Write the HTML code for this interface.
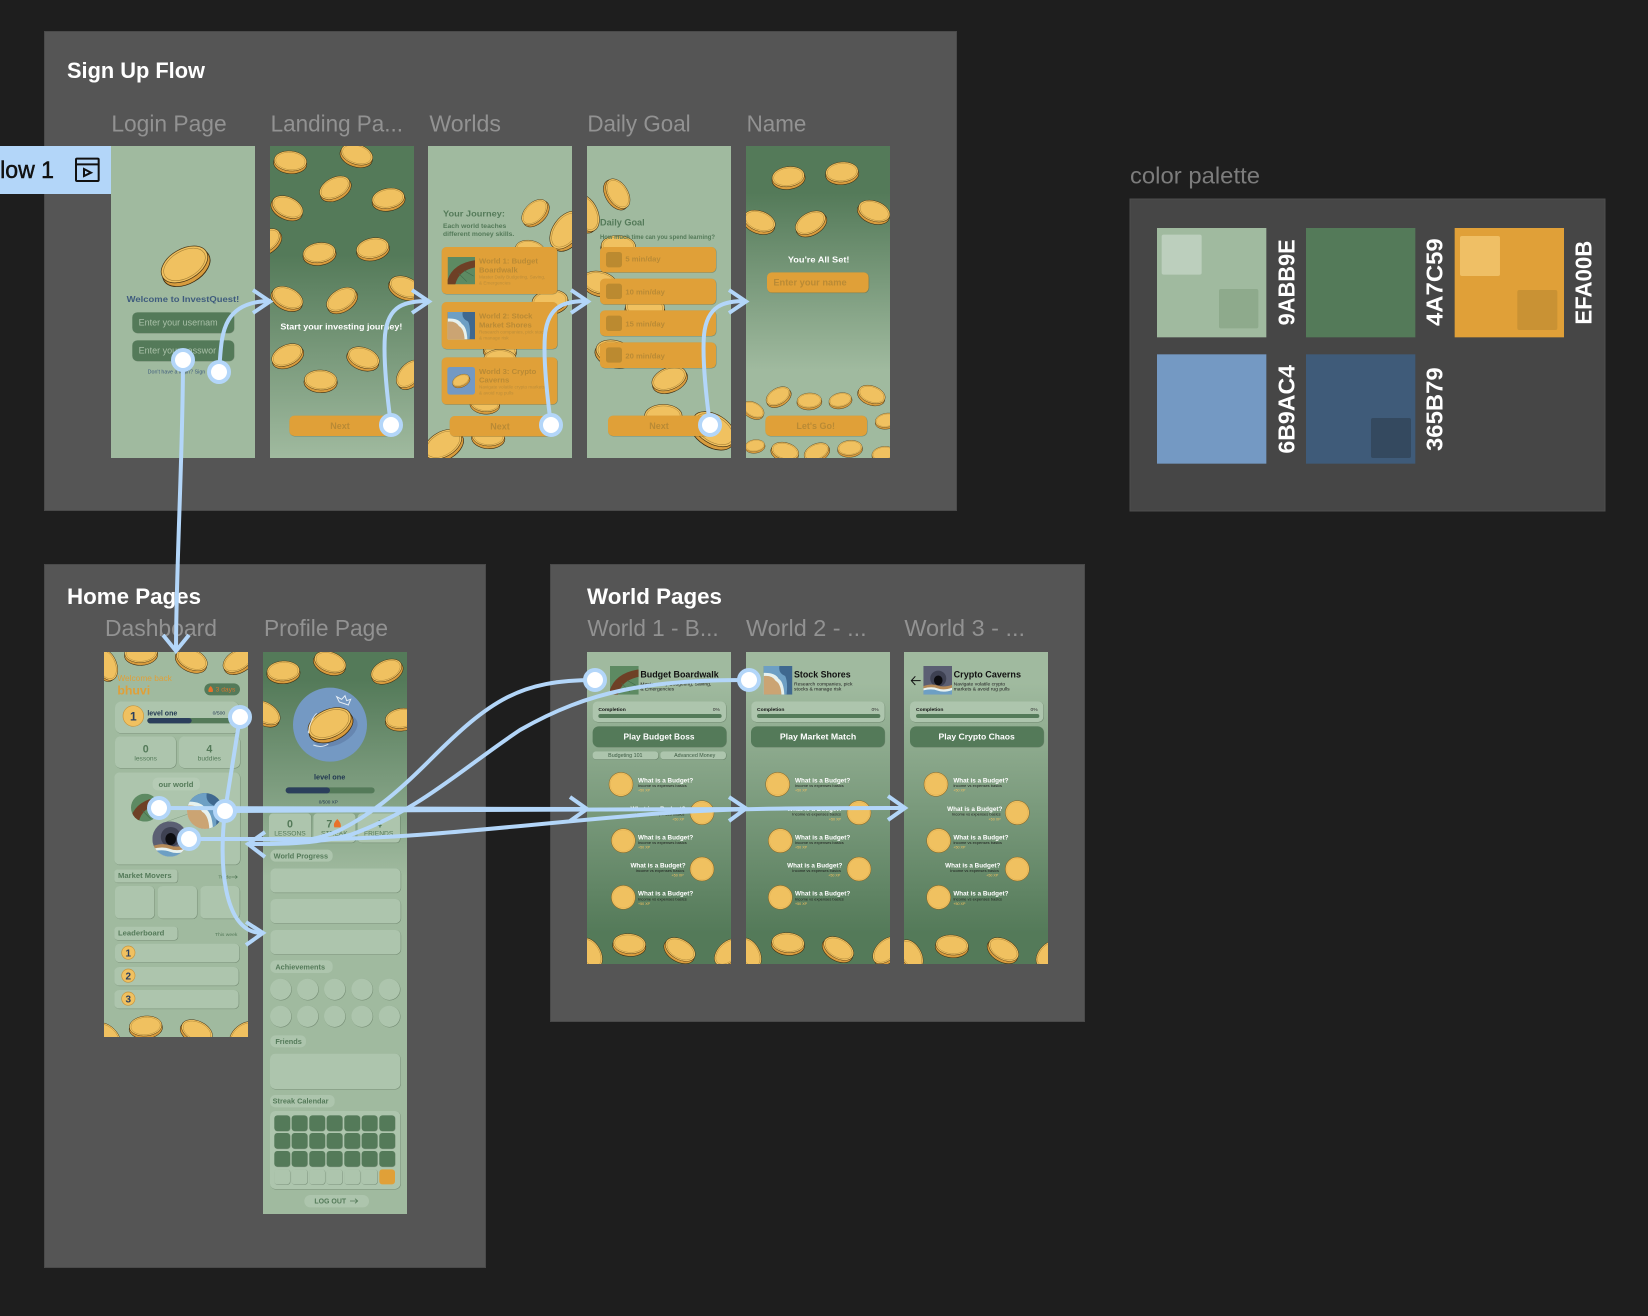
<!DOCTYPE html>
<html><head><meta charset="utf-8"><style>
html,body{margin:0;padding:0;background:#1e1e1e;width:1648px;height:1316px;overflow:hidden}
svg{display:block;font-family:"Liberation Sans",sans-serif}
.s{filter:drop-shadow(1px 1.4px .8px rgba(50,70,50,.55))}
.b{font-weight:700}
.lab{font-size:69px;fill:#929292}
.g{fill:#547a59}.c{fill:#adc5ad}.o{fill:#e0a038}.t{fill:#b98a35;font-weight:700}
.m{text-anchor:middle}
.h{font-size:19px;font-weight:700;fill:#fff}.u{font-size:12px;fill:#1c1c1c}.x{font-size:11px;fill:#f0c060}
.p{font-size:22px;font-weight:700;fill:#547a59}
</style></head><body>
<svg width="1648" height="1316" viewBox="0 0 1648 1316" xmlns="http://www.w3.org/2000/svg">
<defs>
<linearGradient id="dl" x1="0" y1="0" x2="0" y2="1"><stop offset=".35" stop-color="#547a59"/><stop offset="1" stop-color="#a0ba9f"/></linearGradient>
<linearGradient id="dn" x1="0" y1="0" x2="0" y2="1"><stop offset=".15" stop-color="#547a59"/><stop offset=".72" stop-color="#a0ba9f"/></linearGradient>
<linearGradient id="dp" x1="0" y1="0" x2="0" y2="1"><stop offset=".05" stop-color="#547a59"/><stop offset=".4" stop-color="#a0ba9f"/></linearGradient>
<linearGradient id="ld" x1="0" y1="0" x2="0" y2="1"><stop offset=".1" stop-color="#a0ba9f"/><stop offset=".9" stop-color="#547a59"/></linearGradient>
<g id="coin"><ellipse cx="0" cy="5" rx="50" ry="31" fill="#d89c3e" stroke="#3a2a10" stroke-width="1.6"/><ellipse cx="0" cy="-2" rx="49" ry="30" fill="#f0c160" stroke="#4a3614" stroke-width="1.4"/><ellipse cx="0" cy="-2" rx="44" ry="26" fill="none" stroke="#a88236" stroke-width="1.2"/></g>
<g id="rc"><circle r="36" fill="#f0c160" stroke="#8a6826" stroke-width="1.6"/><circle r="32" fill="none" stroke="#d8a84e" stroke-width="1"/></g>
<symbol id="t1" viewBox="0 0 100 100"><rect width="100" height="100" fill="#5d8a62"/><path d="M-5 100Q10 25 100 12L100 38Q40 50 28 100Z" fill="#6e4026"/><path d="M40 60L70 90M60 50L95 70" stroke="#3f6a48" stroke-width="2"/></symbol>
<symbol id="t2" viewBox="0 0 100 100"><rect width="100" height="100" fill="#3f688f"/><path d="M0 0H55Q50 25 75 35Q85 55 80 100H0Z" fill="#6d9fc4"/><path d="M0 24Q40 22 52 44Q70 55 72 100H0Z" fill="#e6f1ee"/><path d="M0 35Q30 32 42 52Q60 62 62 100H0Z" fill="#cba473"/></symbol>
<symbol id="t3" viewBox="0 0 100 100"><rect width="100" height="100" fill="#5b5f73"/><circle cx="52" cy="44" r="28" fill="#3e4152"/><ellipse cx="52" cy="50" rx="15" ry="17" fill="#0c0c10"/><path d="M0 70Q30 60 50 68T100 66V100H0Z" fill="#b58a58"/><path d="M0 78Q30 70 50 78T100 76V100H0Z" fill="#e8f2f0"/><path d="M0 85Q30 78 50 86T100 84V100H0Z" fill="#6d9fc4"/></symbol>
<clipPath id="cLogin"><rect x="111" y="146" width="144" height="312"/></clipPath>
<clipPath id="c2"><rect x="270" y="146" width="144" height="312"/></clipPath>
<clipPath id="c3"><rect x="428" y="146" width="144" height="312"/></clipPath>
<clipPath id="c4"><rect x="587" y="146" width="144" height="312"/></clipPath>
<clipPath id="c5"><rect x="746" y="146" width="144" height="312"/></clipPath>
<clipPath id="cD"><rect x="104" y="652" width="144" height="385"/></clipPath>
<clipPath id="cP"><rect x="263" y="652" width="144" height="562"/></clipPath>
<clipPath id="cW1"><rect x="587" y="652" width="144" height="312"/></clipPath>
<clipPath id="cW2"><rect x="746" y="652" width="144" height="312"/></clipPath>
<clipPath id="cW3"><rect x="904" y="652" width="144" height="312"/></clipPath>
<clipPath id="pt1"><circle cx="165" cy="623" r="42"/></clipPath>
<clipPath id="pt2"><circle cx="345" cy="633" r="54"/></clipPath>
<clipPath id="pt3"><circle cx="240" cy="717" r="53"/></clipPath>
<clipPath id="sc"><rect x="537" y="640" width="393" height="68"/></clipPath>
</defs>

<rect width="1648" height="1316" fill="#1e1e1e"/>
<!-- panels -->
<rect x="44.5" y="31.5" width="912" height="479" fill="#555" stroke="#4a4a4a"/>
<rect x="44.5" y="564.5" width="441" height="703" fill="#555" stroke="#4a4a4a"/>
<rect x="550.5" y="564.5" width="534" height="457" fill="#555" stroke="#4a4a4a"/>
<rect x="1130" y="199" width="475" height="312" fill="#464646" stroke="#4e4e4e"/>

<text x="67" y="78" font-size="22.5" font-weight="700" fill="#fff" textLength="138" lengthAdjust="spacingAndGlyphs">Sign Up Flow</text>
<text x="67" y="604" font-size="22.5" font-weight="700" fill="#fff" textLength="134" lengthAdjust="spacingAndGlyphs">Home Pages</text>
<text x="587" y="604" font-size="22.5" font-weight="700" fill="#fff" textLength="135" lengthAdjust="spacingAndGlyphs">World Pages</text>

<g transform="translate(0,20) scale(.33333)">
<text class="lab" x="334" y="335" textLength="346" lengthAdjust="spacingAndGlyphs">Login Page</text>
<text class="lab" x="812" y="335" textLength="397" lengthAdjust="spacingAndGlyphs">Landing Pa...</text>
<text class="lab" x="1288" y="335" textLength="215" lengthAdjust="spacingAndGlyphs">Worlds</text>
<text class="lab" x="1762" y="335" textLength="310" lengthAdjust="spacingAndGlyphs">Daily Goal</text>
<text class="lab" x="2240" y="335" textLength="179" lengthAdjust="spacingAndGlyphs">Name</text>
</g>

<!-- Login -->
<rect x="111" y="146" width="144" height="312" fill="#a0ba9f"/>
<g clip-path="url(#cLogin)"><g transform="translate(0,20) scale(.33333)">
<use href="#coin" transform="translate(555,736) rotate(-30) scale(1.55)"/>
<text class="m b" x="549" y="846" font-size="26" fill="#3f5c7e" textLength="338" lengthAdjust="spacingAndGlyphs">Welcome to InvestQuest!</text>
<rect class="g s" x="397" y="877" width="305" height="62" rx="15"/>
<text x="416" y="917" font-size="27" fill="#a9c0a8">Enter your usernam</text>
<rect class="g s" x="397" y="961" width="305" height="62" rx="15"/>
<text x="416" y="1001" font-size="27" fill="#a9c0a8">Enter your passwor</text>
<text x="443" y="1061" font-size="16" fill="#3f5c7e">Don't have a login? Sign</text>
</g></g>

<!-- Flow bar -->
<rect x="0" y="146" width="111" height="48" fill="#b3d6f9"/>
<text x="-14" y="178" font-size="24" fill="#111" stroke="#111" stroke-width=".5" textLength="68" lengthAdjust="spacingAndGlyphs">Flow 1</text>
<g transform="translate(0,20) scale(.33333)" fill="none" stroke="#111" stroke-width="6">
<rect x="228" y="416" width="68" height="67" rx="3"/><path d="M228 433H296"/><path d="M252 447L273 458L252 468Z"/></g>

<!-- Landing -->
<rect x="270" y="146" width="144" height="312" fill="url(#dl)"/>
<g clip-path="url(#c2)"><g transform="translate(0,20) scale(.33333)">
<use href="#coin" transform="translate(871,425) rotate(5)"/>
<use href="#coin" transform="translate(1070,405) rotate(18)"/>
<use href="#coin" transform="translate(1005,505) rotate(-28)"/>
<use href="#coin" transform="translate(1165,537) rotate(-10)"/>
<use href="#coin" transform="translate(862,563) rotate(25)"/>
<use href="#coin" transform="translate(798,665) rotate(-35)"/>
<use href="#coin" transform="translate(958,700) rotate(-8)"/>
<use href="#coin" transform="translate(1118,686) rotate(-12)"/>
<use href="#coin" transform="translate(862,835) rotate(25)"/>
<use href="#coin" transform="translate(1025,840) rotate(-32)"/>
<use href="#coin" transform="translate(1215,803) rotate(22)"/>
<use href="#coin" transform="translate(862,1007) rotate(-25)"/>
<use href="#coin" transform="translate(1090,1015) rotate(20)"/>
<use href="#coin" transform="translate(962,1082) rotate(2)"/>
<use href="#coin" transform="translate(1230,1063) rotate(-48)"/>
<text x="841" y="929" font-size="26" font-weight="700" fill="#fff" textLength="366" lengthAdjust="spacingAndGlyphs">Start your investing journey!</text>
<rect class="o s" x="868" y="1187" width="314" height="61" rx="15"/>
<text class="t m" x="1020" y="1227" font-size="27">Next</text>
</g></g>

<!-- Worlds -->
<rect x="428" y="146" width="144" height="312" fill="#a0ba9f"/>
<g clip-path="url(#c3)"><g transform="translate(0,20) scale(.33333)">
<use href="#coin" transform="translate(1605,578) rotate(-45) scale(.95)"/>
<use href="#coin" transform="translate(1700,632) rotate(-55) scale(1.3)"/>
<use href="#coin" transform="translate(1590,690) rotate(10) scale(.9)"/>
<use href="#coin" transform="translate(1650,845) rotate(-8) scale(1.1)"/>
<use href="#coin" transform="translate(1500,990) rotate(5)"/>
<use href="#coin" transform="translate(1500,1020)"/>
<use href="#coin" transform="translate(1455,1150) rotate(5) scale(.9)"/>
<use href="#coin" transform="translate(1330,1275) rotate(-30) scale(1.25)"/>
<use href="#coin" transform="translate(1465,1250) rotate(3)"/>
<text x="1329" y="589" font-size="26" font-weight="700" class="g" textLength="186" lengthAdjust="spacingAndGlyphs">Your Journey:</text>
<text x="1329" y="624" font-size="19" font-weight="700" class="g" textLength="190" lengthAdjust="spacingAndGlyphs">Each world teaches</text>
<text x="1329" y="648" font-size="19" font-weight="700" class="g" textLength="214" lengthAdjust="spacingAndGlyphs">different money skills.</text>
<rect class="o s" x="1325" y="681" width="347" height="141" rx="14"/>
<rect class="o s" x="1325" y="846" width="347" height="141" rx="14"/>
<rect class="o s" x="1325" y="1012" width="347" height="141" rx="14"/>
<use href="#t1" x="1343" y="711" width="82" height="82"/>
<use href="#t2" x="1343" y="876" width="82" height="82"/>
<rect x="1342" y="1041" width="83" height="83" rx="8" fill="#7499c3"/>
<use href="#coin" transform="translate(1383,1082) rotate(-25) scale(.55)"/>
<text x="1437" y="731" font-size="23" class="t">World 1: Budget</text><text x="1437" y="757" font-size="23" class="t">Boardwalk</text>
<text x="1437" y="776" font-size="14" fill="#bd8e39">Master Daily Budgeting, Saving,</text><text x="1437" y="793" font-size="14" fill="#bd8e39">&amp; Emergencies</text>
<text x="1437" y="896" font-size="23" class="t">World 2: Stock</text><text x="1437" y="922" font-size="23" class="t">Market Shores</text>
<text x="1437" y="941" font-size="14" fill="#bd8e39">Research companies, pick stocks</text><text x="1437" y="958" font-size="14" fill="#bd8e39">&amp; manage risk</text>
<text x="1437" y="1062" font-size="23" class="t">World 3: Crypto</text><text x="1437" y="1088" font-size="23" class="t">Caverns</text>
<text x="1437" y="1106" font-size="14" fill="#bd8e39">Navigate volatile crypto markets</text><text x="1437" y="1124" font-size="14" fill="#bd8e39">&amp; avoid rug pulls</text>
<rect class="o s" x="1349" y="1188" width="312" height="61" rx="15"/>
<text class="t m" x="1500" y="1228" font-size="27">Next</text>
</g></g>

<!-- Daily Goal -->
<rect x="587" y="146" width="144" height="312" fill="#a0ba9f"/>
<g clip-path="url(#c4)"><g transform="translate(500,20) scale(.33333)">
<use href="#coin" transform="translate(352,522) rotate(58) scale(1)"/>
<use href="#coin" transform="translate(255,580) rotate(65) scale(1.2)"/>
<use href="#coin" transform="translate(300,790) rotate(15) scale(1.1)"/>
<use href="#coin" transform="translate(355,680) rotate(3) scale(1.05)"/>
<use href="#coin" transform="translate(435,865) rotate(3) scale(1.2)"/>
<use href="#coin" transform="translate(345,1000) rotate(15) scale(1.2)"/>
<use href="#coin" transform="translate(508,1078) rotate(-22) scale(1.1)"/>
<use href="#coin" transform="translate(490,1190) scale(1.15)"/>
<use href="#coin" transform="translate(640,1230) rotate(32) scale(1.45)"/>
<text x="300" y="617" font-size="27" font-weight="700" class="g" textLength="134" lengthAdjust="spacingAndGlyphs">Daily Goal</text>
<text x="300" y="657" font-size="18" font-weight="700" class="g" textLength="345" lengthAdjust="spacingAndGlyphs">How much time can you spend learning?</text>
<rect class="o s" x="300" y="681" width="348" height="76" rx="14"/>
<rect class="o s" x="300" y="776" width="348" height="77" rx="14"/>
<rect class="o s" x="300" y="871" width="348" height="77" rx="14"/>
<rect class="o s" x="300" y="967" width="348" height="77" rx="14"/>
<rect x="318" y="696" width="48" height="46" rx="8" fill="#bb8a30"/>
<rect x="318" y="791" width="48" height="46" rx="8" fill="#bb8a30"/>
<rect x="318" y="887" width="48" height="46" rx="8" fill="#bb8a30"/>
<rect x="318" y="982" width="48" height="46" rx="8" fill="#bb8a30"/>
<text x="376" y="725" font-size="23" class="t">5 min/day</text>
<text x="376" y="824" font-size="23" class="t">10 min/day</text>
<text x="376" y="920" font-size="23" class="t">15 min/day</text>
<text x="376" y="1015" font-size="23" class="t">20 min/day</text>
<rect class="o s" x="324" y="1187" width="310" height="61" rx="15"/>
<text class="t m" x="477" y="1227" font-size="27">Next</text>
</g></g>

<!-- Name -->
<rect x="746" y="146" width="144" height="312" fill="url(#dn)"/>
<g clip-path="url(#c5)"><g transform="translate(500,20) scale(.33333)">
<use href="#coin" transform="translate(865,472) rotate(-8)"/>
<use href="#coin" transform="translate(1026,458) rotate(-5)"/>
<use href="#coin" transform="translate(1122,575) rotate(20)"/>
<use href="#coin" transform="translate(778,605) rotate(20)"/>
<use href="#coin" transform="translate(932,610) rotate(-30)"/>
<use href="#coin" transform="translate(835,1130) rotate(-30) scale(.8)"/>
<use href="#coin" transform="translate(928,1143) rotate(-3) scale(.75)"/>
<use href="#coin" transform="translate(1021,1141) rotate(-12) scale(.7)"/>
<use href="#coin" transform="translate(1115,1125) rotate(20) scale(.85)"/>
<use href="#coin" transform="translate(760,1170) rotate(30) scale(.7)"/>
<use href="#coin" transform="translate(1160,1202) rotate(-10) scale(.7)"/>
<use href="#coin" transform="translate(765,1278) rotate(-8) scale(.6)"/>
<use href="#coin" transform="translate(855,1295) rotate(15) scale(.85)"/>
<use href="#coin" transform="translate(950,1297) rotate(-25) scale(.8)"/>
<use href="#coin" transform="translate(1050,1285) rotate(-5) scale(.75)"/>
<use href="#coin" transform="translate(1150,1302) rotate(-10) scale(.7)"/>
<text class="m b" x="956" y="728" font-size="26" fill="#fff" textLength="185" lengthAdjust="spacingAndGlyphs">You're All Set!</text>
<rect class="o s" x="801" y="757" width="305" height="61" rx="15"/>
<text x="820" y="797" font-size="27" class="t" textLength="220" lengthAdjust="spacingAndGlyphs">Enter your name</text>
<rect class="o s" x="796" y="1187" width="305" height="61" rx="15"/>
<text class="t m" x="947" y="1227" font-size="27">Let's Go!</text>
</g></g>

<!-- Palette -->
<g transform="translate(1110,150) scale(.33333)">
<text x="60" y="100" font-size="68" fill="#7c7c7c" textLength="390" lengthAdjust="spacingAndGlyphs">color palette</text>
<rect x="141" y="234" width="328" height="328" fill="#a0ba9f"/>
<rect x="155" y="254" width="120" height="120" rx="6" fill="#bccfbd"/>
<rect x="327" y="417" width="118" height="118" rx="6" fill="#8eaa8c"/>
<rect x="588" y="234" width="328" height="328" fill="#547a59"/>
<rect x="1034" y="234" width="328" height="328" fill="#e0a038"/>
<rect x="1050" y="258" width="120" height="120" rx="6" fill="#efbf65"/>
<rect x="1222" y="420" width="120" height="120" rx="6" fill="#c99234"/>
<rect x="141" y="613" width="328" height="328" fill="#7499c3"/>
<rect x="588" y="613" width="328" height="328" fill="#3f5b79"/>
<rect x="783" y="804" width="120" height="120" rx="6" fill="#34495f"/>
<g font-weight="700" font-size="68" fill="#fff">
<text transform="translate(553,526) rotate(-90)" textLength="258" lengthAdjust="spacingAndGlyphs">9ABB9E</text>
<text transform="translate(998,528) rotate(-90)" textLength="263" lengthAdjust="spacingAndGlyphs">4A7C59</text>
<text transform="translate(1445,524) rotate(-90)" textLength="252" lengthAdjust="spacingAndGlyphs">EFA00B</text>
<text transform="translate(553,911) rotate(-90)" textLength="266" lengthAdjust="spacingAndGlyphs">6B9AC4</text>
<text transform="translate(998,903) rotate(-90)" textLength="251" lengthAdjust="spacingAndGlyphs">365B79</text>
</g></g>

<!-- Dashboard + Profile labels -->
<g transform="translate(90,600) scale(.33333)">
<text class="lab" x="45" y="108" textLength="336" lengthAdjust="spacingAndGlyphs">Dashboard</text>
<text class="lab" x="522" y="108" textLength="372" lengthAdjust="spacingAndGlyphs">Profile Page</text>
</g>

<rect x="104" y="652" width="144" height="385" fill="#a0ba9f"/>
<g clip-path="url(#cD)"><g transform="translate(90,600) scale(.33333)">
<use href="#coin" transform="translate(153,160) rotate(-3)"/>
<use href="#coin" transform="translate(305,180) rotate(25)"/>
<use href="#coin" transform="translate(445,183) rotate(-30)"/>
<use href="#coin" transform="translate(48,195) rotate(68)"/>
<use href="#coin" transform="translate(167,1280) rotate(-5)"/>
<use href="#coin" transform="translate(320,1295) rotate(25)"/>
<use href="#coin" transform="translate(462,1305) rotate(-40)"/>
<use href="#coin" transform="translate(50,1310) rotate(45)"/>
<text x="82" y="243" font-size="25" fill="#e0a038">Welcome back</text>
<text x="82" y="284" font-size="37" font-weight="700" fill="#e0a038">bhuvi</text>
<rect x="343" y="250" width="107" height="36" rx="18" fill="#547a59"/>
<path d="M362 258Q372 268 368 276H356Q352 268 362 258Z" fill="#e8712a"/>
<text x="377" y="275" font-size="20" fill="#d9762e">3 days</text>
<rect class="c s" x="75" y="304" width="372" height="96" rx="20"/>
<circle cx="130" cy="348" r="31" fill="#f0c160" stroke="#c8953c" stroke-width="2"/>
<text class="m b" x="130" y="361" font-size="36" fill="#2b4060">1</text>
<text x="172" y="346" font-size="21" font-weight="700" fill="#1f3550">level one</text>
<text x="368" y="344" font-size="15" fill="#1f3550">0/500</text>
<rect x="172" y="354" width="258" height="16" rx="8" fill="#547a59"/>
<rect x="172" y="354" width="133" height="16" rx="8" fill="#2b3f5c"/>
<rect class="c s" x="75" y="409" width="183" height="95" rx="16"/>
<rect class="c s" x="267" y="409" width="183" height="95" rx="16"/>
<text class="m g b" x="167" y="457" font-size="32">0</text><text class="m g" x="167" y="482" font-size="20">lessons</text>
<text class="m g b" x="358" y="457" font-size="32">4</text><text class="m g" x="358" y="482" font-size="20">buddies</text>
<rect class="c s" x="73" y="517" width="377" height="277" rx="16"/>
<rect x="188" y="533" width="142" height="38" rx="15" fill="#b5cbb5"/>
<text class="m" x="258" y="561" font-size="23" font-weight="700" fill="#547a59">our world</text>
<path d="M230 665L300 640" fill="none" stroke="#7f9b80" stroke-width="1.5"/>
<g clip-path="url(#pt1)"><use href="#t1" x="123" y="581" width="84" height="84"/></g>
<g clip-path="url(#pt2)"><use href="#t2" x="291" y="579" width="108" height="108"/></g>
<g clip-path="url(#pt3)"><use href="#t3" x="187" y="664" width="106" height="106"/></g>
<rect class="c s" x="73" y="808" width="190" height="40" rx="10"/>
<text x="84" y="834" font-size="23" font-weight="700" fill="#547a59">Market Movers</text>
<text x="385" y="836" font-size="15" fill="#547a59">Trade</text>
<path d="M424 831H442M436 826L442 831L436 836" fill="none" stroke="#547a59" stroke-width="2"/>
<rect class="c s" x="75" y="858" width="118" height="98" rx="14"/>
<rect class="c s" x="203" y="858" width="118" height="98" rx="14"/>
<rect class="c s" x="331" y="858" width="118" height="98" rx="14"/>
<rect class="c s" x="73" y="980" width="190" height="40" rx="10"/>
<text x="84" y="1006" font-size="23" font-weight="700" fill="#547a59">Leaderboard</text>
<text x="375" y="1008" font-size="15" fill="#547a59">This week</text>
<rect class="c s" x="75" y="1031" width="373" height="56" rx="14"/>
<rect class="c s" x="73" y="1101" width="373" height="56" rx="14"/>
<rect class="c s" x="73" y="1170" width="373" height="56" rx="14"/>
<circle cx="115" cy="1058" r="20" fill="#f0c160" stroke="#c8953c" stroke-width="2"/>
<circle cx="115" cy="1127" r="20" fill="#f0c160" stroke="#c8953c" stroke-width="2"/>
<circle cx="115" cy="1196" r="20" fill="#f0c160" stroke="#c8953c" stroke-width="2"/>
<text class="m b" x="115" y="1069" font-size="30" fill="#2b4060">1</text>
<text class="m b" x="115" y="1138" font-size="30" fill="#2b4060">2</text>
<text class="m b" x="115" y="1207" font-size="30" fill="#2b4060">3</text>
</g></g>

<!-- Profile -->
<rect x="263" y="652" width="144" height="562" fill="url(#dp)"/>
<g clip-path="url(#cP)"><g transform="translate(90,600) scale(.33333)">
<use href="#coin" transform="translate(580,215) rotate(-3)"/>
<use href="#coin" transform="translate(720,188) rotate(20)"/>
<use href="#coin" transform="translate(890,213) rotate(-25)"/>
<use href="#coin" transform="translate(525,340) rotate(32)"/>
<use href="#coin" transform="translate(935,357) rotate(-8)"/>
<circle cx="720" cy="374" r="111" fill="#7499c3"/>
<ellipse cx="735" cy="392" rx="72" ry="42" fill="#6686b0" transform="rotate(-25 735 392)"/>
<use href="#coin" transform="translate(720,373) rotate(-25) scale(1.4)"/>
<path d="M740 290L755 298L765 287L770 302L782 298L775 315L748 306Z" fill="none" stroke="#e6eef5" stroke-width="3"/>
<path d="M655 400Q660 360 680 340M670 435Q695 445 715 432" fill="none" stroke="#dce6ef" stroke-width="3"/>
<text class="m b" x="719" y="538" font-size="22" fill="#1f3550">level one</text>
<rect x="587" y="562" width="267" height="18" rx="9" fill="#547a59"/>
<rect x="587" y="562" width="133" height="18" rx="9" fill="#2b3f5c"/>
<text class="m" x="715" y="611" font-size="14" fill="#1f3550">0/500 XP</text>
<rect class="c s" x="537" y="640" width="127" height="88" rx="12"/>
<rect class="c s" x="670" y="640" width="127" height="88" rx="12"/>
<rect class="c s" x="803" y="640" width="127" height="88" rx="12"/>
<g clip-path="url(#sc)" class="g">
<text class="m b" x="600" y="682" font-size="32">0</text><text class="m" x="600" y="706" font-size="20">LESSONS</text>
<text class="m b" x="718" y="682" font-size="32">7</text><text class="m" x="733" y="706" font-size="20">STREAK</text>
<text class="m b" x="866" y="682" font-size="32">4</text><text class="m" x="866" y="706" font-size="20">FRIENDS</text>
</g>
<path d="M742 657Q755 670 752 682H733Q728 670 742 657Z" fill="#e8712a"/>
<rect x="541" y="749" width="187" height="36" rx="16" fill="#adc5ad"/>
<text class="p" x="551" y="775">World Progress</text>
<rect class="c s" x="541" y="805" width="391" height="73" rx="16"/>
<rect class="c s" x="541" y="897" width="391" height="73" rx="16"/>
<rect class="c s" x="541" y="990" width="391" height="73" rx="16"/>
<rect x="541" y="1081" width="187" height="38" rx="16" fill="#adc5ad"/>
<text class="p" x="556" y="1108">Achievements</text>
<g class="c s">
<circle cx="572" cy="1168" r="32"/><circle cx="653" cy="1168" r="32"/><circle cx="734" cy="1168" r="32"/><circle cx="816" cy="1168" r="32"/><circle cx="898" cy="1168" r="32"/>
<circle cx="572" cy="1249" r="32"/><circle cx="653" cy="1249" r="32"/><circle cx="734" cy="1249" r="32"/><circle cx="816" cy="1249" r="32"/><circle cx="898" cy="1249" r="32"/>
</g>
<rect x="541" y="1306" width="107" height="36" rx="16" fill="#adc5ad"/>
<text class="p" x="556" y="1332">Friends</text>
</g>
<g transform="translate(250,880) scale(.33333)">
<rect class="c s" x="60" y="521" width="391" height="106" rx="16"/>
<rect x="60" y="645" width="194" height="37" rx="16" fill="#adc5ad"/>
<text class="p" x="68" y="671">Streak Calendar</text>
<rect class="c s" x="60" y="693" width="391" height="234" rx="16"/>
<g fill="#547a59" class="s">
<rect x="73" y="706" width="47" height="47" rx="9"/><rect x="125" y="706" width="47" height="47" rx="9"/><rect x="178" y="706" width="47" height="47" rx="9"/><rect x="230" y="706" width="47" height="47" rx="9"/><rect x="283" y="706" width="47" height="47" rx="9"/><rect x="335" y="706" width="47" height="47" rx="9"/><rect x="388" y="706" width="47" height="47" rx="9"/>
<rect x="73" y="759" width="47" height="47" rx="9"/><rect x="125" y="759" width="47" height="47" rx="9"/><rect x="178" y="759" width="47" height="47" rx="9"/><rect x="230" y="759" width="47" height="47" rx="9"/><rect x="283" y="759" width="47" height="47" rx="9"/><rect x="335" y="759" width="47" height="47" rx="9"/><rect x="388" y="759" width="47" height="47" rx="9"/>
<rect x="73" y="813" width="47" height="47" rx="9"/><rect x="125" y="813" width="47" height="47" rx="9"/><rect x="178" y="813" width="47" height="47" rx="9"/><rect x="230" y="813" width="47" height="47" rx="9"/><rect x="283" y="813" width="47" height="47" rx="9"/><rect x="335" y="813" width="47" height="47" rx="9"/><rect x="388" y="813" width="47" height="47" rx="9"/>
</g>
<g class="c s">
<rect x="73" y="868" width="47" height="45" rx="9"/><rect x="125" y="868" width="47" height="45" rx="9"/><rect x="178" y="868" width="47" height="45" rx="9"/><rect x="230" y="868" width="47" height="45" rx="9"/><rect x="283" y="868" width="47" height="45" rx="9"/><rect x="335" y="868" width="47" height="45" rx="9"/>
</g>
<rect class="o" x="388" y="868" width="47" height="45" rx="9"/>
<rect x="163" y="945" width="194" height="37" rx="18" fill="#adc5ad"/>
<text x="193" y="971" font-size="21" fill="#547a59" font-weight="700">LOG OUT</text>
<path d="M300 963H323M315 956L323 963L315 970" fill="none" stroke="#547a59" stroke-width="2.5"/>
</g></g>

<!-- Worlds pages -->
<g transform="translate(570,600) scale(.33333)">
<text class="lab" x="52" y="108" textLength="394" lengthAdjust="spacingAndGlyphs">World 1 - B...</text>
<text class="lab" x="528" y="108" textLength="362" lengthAdjust="spacingAndGlyphs">World 2 - ...</text>
<text class="lab" x="1003" y="108" textLength="362" lengthAdjust="spacingAndGlyphs">World 3 - ...</text>
</g>
<rect x="587" y="652" width="144" height="312" fill="url(#ld)"/>
<rect x="746" y="652" width="144" height="312" fill="url(#ld)"/>
<rect x="904" y="652" width="144" height="312" fill="url(#ld)"/>

<g clip-path="url(#cW1)"><g transform="translate(570,600) scale(.33333)">
<use href="#coin" transform="translate(178,1033) rotate(5)"/>
<use href="#coin" transform="translate(330,1050) rotate(30)"/>
<use href="#coin" transform="translate(60,1060) rotate(60)"/>
<use href="#coin" transform="translate(475,1058) rotate(-45)"/>
<use href="#t1" x="120" y="198" width="86" height="86"/>
<text x="211" y="232" font-size="27" font-weight="700" fill="#111" textLength="235" lengthAdjust="spacingAndGlyphs">Budget Boardwalk</text>
<text x="211" y="256" font-size="15" fill="#222">Master Daily Budgeting, Saving,</text>
<text x="211" y="272" font-size="15" fill="#222">&amp; Emergencies</text>
<rect class="c s" x="68" y="304" width="400" height="62" rx="15"/>
<text x="85" y="333" font-size="15" font-weight="700" fill="#111">Completion</text>
<text x="450" y="333" font-size="15" fill="#333" text-anchor="end">0%</text>
<rect x="85" y="342" width="370" height="12" rx="6" fill="#547a59"/>
<rect class="g s" x="68" y="379" width="401" height="62" rx="18"/>
<text class="m b" x="267" y="419" font-size="25" fill="#fff" textLength="213" lengthAdjust="spacingAndGlyphs">Play Budget Boss</text>
<rect class="c s" x="68" y="454" width="197" height="24" rx="10"/>
<rect class="c s" x="271" y="454" width="197" height="24" rx="10"/>
<text class="m" x="166" y="471" font-size="16" fill="#3c5a42">Budgeting 101</text>
<text class="m" x="374" y="471" font-size="16" fill="#3c5a42">Advanced Money</text>
<use href="#rc" transform="translate(153,553)"/><use href="#rc" transform="translate(396,638)"/><use href="#rc" transform="translate(160,722)"/><use href="#rc" transform="translate(396,807)"/><use href="#rc" transform="translate(160,892)"/>
<text class="h" x="204" y="547">What is a Budget?</text><text class="u" x="204" y="561">Income vs expenses basics</text><text class="x" x="204" y="575">+50 XP</text>
<text class="h" x="347" y="633" text-anchor="end">What is a Budget?</text><text class="u" x="343" y="647" text-anchor="end">Income vs expenses basics</text><text class="x" x="343" y="661" text-anchor="end">+50 XP</text>
<text class="h" x="204" y="718">What is a Budget?</text><text class="u" x="204" y="732">Income vs expenses basics</text><text class="x" x="204" y="746">+50 XP</text>
<text class="h" x="347" y="802" text-anchor="end">What is a Budget?</text><text class="u" x="343" y="816" text-anchor="end">Income vs expenses basics</text><text class="x" x="341" y="830" text-anchor="end">+50 XP</text>
<text class="h" x="204" y="887">What is a Budget?</text><text class="u" x="204" y="901">Income vs expenses basics</text><text class="x" x="204" y="915">+50 XP</text>
</g></g>

<g clip-path="url(#cW2)"><g transform="translate(570,600) scale(.33333)">
<use href="#coin" transform="translate(654,1030) rotate(5)"/>
<use href="#coin" transform="translate(805,1047) rotate(30)"/>
<use href="#coin" transform="translate(537,1060) rotate(60)"/>
<use href="#coin" transform="translate(950,1052) rotate(-45)"/>
<use href="#t2" x="581" y="198" width="86" height="86"/>
<text x="672" y="232" font-size="27" font-weight="700" fill="#111" textLength="170" lengthAdjust="spacingAndGlyphs">Stock Shores</text>
<text x="672" y="256" font-size="15" fill="#222">Research companies, pick</text>
<text x="672" y="272" font-size="15" fill="#222">stocks &amp; manage risk</text>
<rect class="c s" x="544" y="304" width="400" height="62" rx="15"/>
<text x="561" y="333" font-size="15" font-weight="700" fill="#111">Completion</text>
<text x="926" y="333" font-size="15" fill="#333" text-anchor="end">0%</text>
<rect x="561" y="342" width="370" height="12" rx="6" fill="#547a59"/>
<rect class="g s" x="543" y="379" width="401" height="62" rx="18"/>
<text class="m b" x="744" y="419" font-size="25" fill="#fff" textLength="229" lengthAdjust="spacingAndGlyphs">Play Market Match</text>
<use href="#rc" transform="translate(623,553)"/><use href="#rc" transform="translate(867,638)"/><use href="#rc" transform="translate(631,722)"/><use href="#rc" transform="translate(867,807)"/><use href="#rc" transform="translate(631,892)"/>
<text class="h" x="675" y="547">What is a Budget?</text><text class="u" x="675" y="561">Income vs expenses basics</text><text class="x" x="675" y="575">+50 XP</text>
<text class="h" x="817" y="633" text-anchor="end">What is a Budget?</text><text class="u" x="813" y="647" text-anchor="end">Income vs expenses basics</text><text class="x" x="813" y="661" text-anchor="end">+50 XP</text>
<text class="h" x="675" y="718">What is a Budget?</text><text class="u" x="675" y="732">Income vs expenses basics</text><text class="x" x="675" y="746">+50 XP</text>
<text class="h" x="817" y="802" text-anchor="end">What is a Budget?</text><text class="u" x="813" y="816" text-anchor="end">Income vs expenses basics</text><text class="x" x="811" y="830" text-anchor="end">+50 XP</text>
<text class="h" x="675" y="887">What is a Budget?</text><text class="u" x="675" y="901">Income vs expenses basics</text><text class="x" x="675" y="915">+50 XP</text>
</g></g>

<g clip-path="url(#cW3)"><g transform="translate(570,600) scale(.33333)">
<use href="#coin" transform="translate(1146,1037) rotate(5)"/>
<use href="#coin" transform="translate(1300,1050) rotate(30)"/>
<use href="#coin" transform="translate(1022,1065) rotate(60)"/>
<use href="#coin" transform="translate(1440,1062) rotate(-45)"/>
<path d="M1024 242H1052M1036 229L1024 242L1036 255" fill="none" stroke="#111" stroke-width="3"/>
<use href="#t3" x="1060" y="198" width="86" height="86"/>
<text x="1151" y="232" font-size="27" font-weight="700" fill="#111" textLength="202" lengthAdjust="spacingAndGlyphs">Crypto Caverns</text>
<text x="1151" y="256" font-size="15" fill="#222">Navigate volatile crypto</text>
<text x="1151" y="272" font-size="15" fill="#222">markets &amp; avoid rug pulls</text>
<rect class="c s" x="1020" y="304" width="400" height="62" rx="15"/>
<text x="1038" y="333" font-size="15" font-weight="700" fill="#111">Completion</text>
<text x="1403" y="333" font-size="15" fill="#333" text-anchor="end">0%</text>
<rect x="1038" y="342" width="370" height="12" rx="6" fill="#547a59"/>
<rect class="g s" x="1020" y="379" width="401" height="62" rx="18"/>
<text class="m b" x="1220" y="419" font-size="25" fill="#fff" textLength="229" lengthAdjust="spacingAndGlyphs">Play Crypto Chaos</text>
<use href="#rc" transform="translate(1098,553)"/><use href="#rc" transform="translate(1342,638)"/><use href="#rc" transform="translate(1106,722)"/><use href="#rc" transform="translate(1342,807)"/><use href="#rc" transform="translate(1106,892)"/>
<text class="h" x="1150" y="547">What is a Budget?</text><text class="u" x="1150" y="561">Income vs expenses basics</text><text class="x" x="1150" y="575">+50 XP</text>
<text class="h" x="1297" y="633" text-anchor="end">What is a Budget?</text><text class="u" x="1292" y="647" text-anchor="end">Income vs expenses basics</text><text class="x" x="1292" y="661" text-anchor="end">+50 XP</text>
<text class="h" x="1150" y="718">What is a Budget?</text><text class="u" x="1150" y="732">Income vs expenses basics</text><text class="x" x="1150" y="746">+50 XP</text>
<text class="h" x="1291" y="802" text-anchor="end">What is a Budget?</text><text class="u" x="1287" y="816" text-anchor="end">Income vs expenses basics</text><text class="x" x="1285" y="830" text-anchor="end">+50 XP</text>
<text class="h" x="1150" y="887">What is a Budget?</text><text class="u" x="1150" y="901">Income vs expenses basics</text><text class="x" x="1150" y="915">+50 XP</text>
</g></g>

<!-- Connectors -->
<g fill="none" stroke="#b3d6f9" stroke-width="4" stroke-linecap="butt" stroke-linejoin="miter">
<path d="M183 360C183 450 176 570 176 650"/>
<path d="M163 635L176 651L189 635"/>
<path d="M219 372C222 340 218 301 271 301"/>
<path d="M253 290L270 301.500L253 313"/>
<path d="M391 425C387 395 383 360 385 335C388 305 405 301 429 301"/>
<path d="M412 290L429 301.500L412 313"/>
<path d="M551 425C547 395 543 360 545 335C548 305 565 301 588 301"/>
<path d="M571 290L588 301.500L571 313"/>
<path d="M710 425C706 395 702 360 704 335C707 305 724 301 746 301"/>
<path d="M729 290L746 301.500L729 313"/>
<path d="M240 717L225 811C219 860 222 933 262 933"/>
<path d="M246 922L263 933L246 945"/>
<path d="M159 808L587 809"/>
<path d="M570 797L587 809L570 821"/>
<path d="M225 811L745 809"/>
<path d="M729 797L746 808.500L729 821"/>
<path d="M189 839H330C430 837 520 825 640 815C720 808 800 808 904 808"/>
<path d="M888 796L905 808L888 820"/>
<path d="M595 680C520 680 490 700 430 760C395 795 370 815 340 830C310 844 270 844 249 844"/>
<path d="M749 680C650 680 590 690 520 730C460 770 420 810 350 835C310 845 270 844 249 844"/>
<path d="M265 832L248 844L265 857"/>
</g>
<g fill="#fff" stroke="#b3d6f9" stroke-width="4">
<circle cx="183" cy="360" r="10"/><circle cx="219" cy="372" r="10"/><circle cx="391" cy="425" r="10"/><circle cx="551" cy="425" r="10"/><circle cx="710" cy="425" r="10"/>
<circle cx="240" cy="717" r="10"/><circle cx="159" cy="808" r="10"/><circle cx="225" cy="811" r="10"/><circle cx="189" cy="839" r="10"/><circle cx="595" cy="680" r="10"/><circle cx="749" cy="680" r="10"/>
</g>
</svg>
</body></html>
